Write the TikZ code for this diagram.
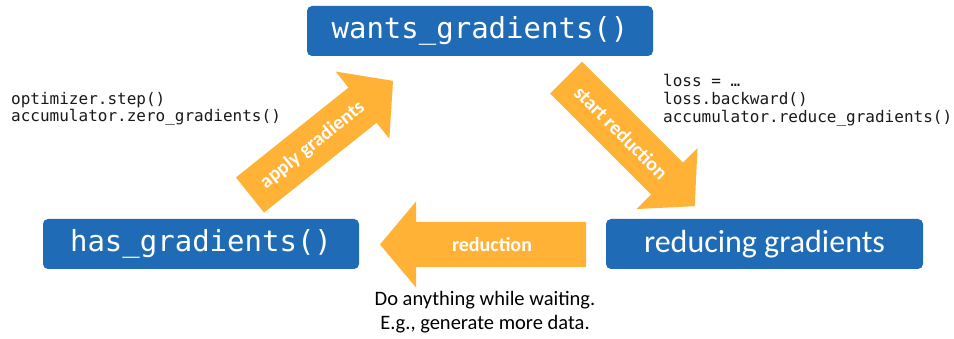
\documentclass[tikz,border=0pt]{standalone}
\usepackage{fontspec}
\setmainfont{Carlito}
\newfontfamily\codefont{DejaVu Sans Mono}
\definecolor{boxblue}{RGB}{31,107,182}
\definecolor{arroworange}{RGB}{255,178,54}
\tikzset{
  statebox/.style={fill=boxblue, rounded corners=5pt, text=white, inner sep=0pt, minimum height=50pt},
  codetext/.style={font=\codefont\fontsize{16}{18}\selectfont, inner sep=0pt, anchor=base west, text=black!90},
  arrowtext/.style={font=\fontsize{20}{22}\selectfont\bfseries, text=white, inner sep=0pt},
  blockarrow/.style={fill=arroworange},
}
% #1 = shaft length to head base, #2 = head length
\newcommand{\myblockarrow}[2]{%
  \fill[blockarrow] (0,-22.5) -- (#1,-22.5) -- (#1,-43) -- ({#1+#2},0) -- (#1,43) -- (#1,22.5) -- (0,22.5) -- cycle;}
\begin{document}
\begin{tikzpicture}[x=1pt,y=-1pt]
\useasboundingbox (0,0) rectangle (954,339);
% state boxes
\node[statebox, minimum width=346pt, font=\codefont\fontsize{29}{32}\selectfont] (wants) at (480,31) {wants\_gradients()};
\node[statebox, minimum width=316pt, font=\codefont\fontsize{29}{32}\selectfont] (has) at (201,244) {has\_gradients()};
\node[statebox, minimum width=317pt, font=\fontsize{32}{36}\selectfont] (reducing) at (764.5,244) {reducing gradients};
% apply gradients arrow
\begin{scope}[shift={(250,195)}, rotate=38.6]
  \myblockarrow{144}{39}
  \node[arrowtext, rotate=38.6] (applylbl) at (80,0) {apply gradients};
\end{scope}
% start reduction arrow
\begin{scope}[shift={(566,77.5)}, rotate=-45]
  \myblockarrow{143}{39}
  \node[arrowtext, rotate=-45] (startlbl) at (78,0) {start reduction};
\end{scope}
% reduction arrow
\begin{scope}[shift={(586,244.5)}, rotate=180]
  \myblockarrow{170}{36}
\end{scope}
\node[arrowtext] (redlbl) at (492,245) {reduction};
% code texts
\node[codetext] (l1) at (11,105) {optimizer.step()};
\node[codetext] (l2) at (11,122) {accumulator.zero\_gradients()};
\node[codetext] (r1) at (663,86.5) {loss = …};
\node[codetext] (r2) at (663,105) {loss.backward()};
\node[codetext] (r3) at (663,123) {accumulator.reduce\_gradients()};
% bottom note
\node[font=\fontsize{20.5}{24}\selectfont, anchor=base, inner sep=0pt] (b1) at (485,306) {Do anything while waiting.};
\node[font=\fontsize{20.5}{24}\selectfont, anchor=base, inner sep=0pt] (b2) at (485,330) {E.g., generate more data.};
\end{tikzpicture}
\end{document}
